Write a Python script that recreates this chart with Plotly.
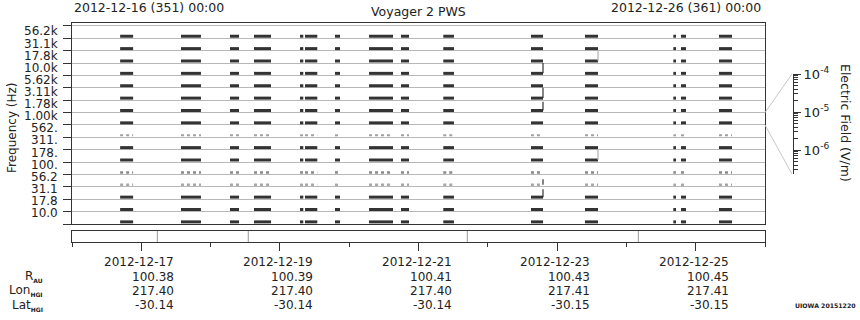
import math
import plotly.graph_objects as go

# ---------------- data ----------------
channel_labels = ["10.0", "17.8", "31.1", "56.2", "100.", "178.", "311.", "562.",
                  "1.00k", "1.78k", "3.11k", "5.62k", "10.0k", "17.8k", "31.1k", "56.2k"]

obs_start = ["2012-12-16 16:40", "2012-12-17 13:45", "2012-12-18 06:43", "2012-12-18 15:02",
             "2012-12-19 06:58", "2012-12-19 08:42", "2012-12-19 19:05", "2012-12-20 06:52",
             "2012-12-20 17:56", "2012-12-21 08:35", "2012-12-22 14:57", "2012-12-23 09:40",
             "2012-12-24 16:15", "2012-12-24 18:55", "2012-12-25 08:04"]
obs_end = ["2012-12-16 21:10", "2012-12-17 20:40", "2012-12-18 09:50", "2012-12-18 20:55",
           "2012-12-19 08:06", "2012-12-19 12:57", "2012-12-19 20:49", "2012-12-20 15:10",
           "2012-12-20 20:43", "2012-12-21 12:17", "2012-12-22 19:07", "2012-12-23 14:10",
           "2012-12-24 17:11", "2012-12-24 20:39", "2012-12-25 12:34"]

# background electric field per channel (V/m)
background_E = [6.6e-7, 6.6e-7, 6.6e-7, 6.4e-7, 6.4e-7, 6.6e-7, 6.6e-7, 6.4e-7,
                6.6e-7, 6.6e-7, 6.6e-7, 6.6e-7, 6.6e-7, 6.6e-7, 6.6e-7, 6.6e-7]
noisy_channels = [3, 4, 7]

# spikes (time, channel, peak E)
spike_strong_time = ["2012-12-22 19:07", "2012-12-22 19:07", "2012-12-22 19:07",
                     "2012-12-22 19:07", "2012-12-22 19:07"]
spike_strong_chan = [12, 10, 9, 3, 2]
spike_strong_E = [1.0e-4, 1.0e-4, 4.8e-5, 9.3e-6, 3.2e-5]
spike_faint_time = ["2012-12-23 14:10", "2012-12-23 14:10"]
spike_faint_chan = [13, 5]
spike_faint_E = [1.0e-4, 9.0e-5]

strip_marks = ["2012-12-17 05:33", "2012-12-18 13:03", "2012-12-21 16:54", "2012-12-24 04:08"]

eph_dates = ["2012-12-17", "2012-12-19", "2012-12-21", "2012-12-23", "2012-12-25"]
eph_R = ["100.38", "100.39", "100.41", "100.43", "100.45"]
eph_lon = ["217.40", "217.40", "217.40", "217.41", "217.41"]
eph_lat = ["-30.14", "-30.14", "-30.14", "-30.15", "-30.15"]

E_LOG_MIN, E_LOG_MAX = -6.63, -4.0
X_RANGE = ["2012-12-16 00:00", "2012-12-26 00:00"]

# ---------------- layout geometry (pixels) ----------------
W, H = 860, 320
ML, MT, MB = 72, 23, 78
PW = W - ML
PH = H - MT - MB
def px_x(x): return (x - ML) / PW
def px_y(y): return (H - MB - y) / PH

XD = px_x(765)
Y_MAIN0 = px_y(224)
Y_TOP_RANGE = 16.24
CH_PX = (224 - 23) / Y_TOP_RANGE
DARK = "#333333"
GRID = "#b8b8b8"
FONT = "DejaVu Sans"

def frac(E):
    return (math.log10(E) - E_LOG_MIN) / (E_LOG_MAX - E_LOG_MIN)

fig = go.Figure()

def bar_trace(chans, color, width, dash):
    xs, ys = [], []
    for c in chans:
        lv = c + frac(background_E[c])
        for s, e in zip(obs_start, obs_end):
            xs += [s, e, None]
            ys += [lv, lv, None]
    fig.add_trace(go.Scatter(x=xs, y=ys, mode="lines", xaxis="x", yaxis="y",
                             line=dict(color=color, width=width, dash=dash),
                             showlegend=False, hoverinfo="skip"))

solid = [c for c in range(16) if c not in noisy_channels]
bar_trace(solid, DARK, 3, "solid")
bar_trace([3], "#a8a8a8", 2.5, "dot")
bar_trace([4], "#8a8a8a", 2.5, "dot")
bar_trace([7], "#a0a0a0", 2, "dot")

def spike_trace(times, chans, Es, color):
    xs, ys = [], []
    for t, c, E in zip(times, chans, Es):
        xs += [t, t, None]
        ys += [c + frac(background_E[c]), c + frac(E), None]
    fig.add_trace(go.Scatter(x=xs, y=ys, mode="lines", xaxis="x", yaxis="y",
                             line=dict(color=color, width=1.2),
                             showlegend=False, hoverinfo="skip"))

spike_trace(spike_strong_time, spike_strong_chan, spike_strong_E, DARK)
spike_trace(spike_faint_time, spike_faint_chan, spike_faint_E, "#b0b0b0")

xs, ys = [], []
for t in strip_marks:
    xs += [t, t, None]
    ys += [0, 1, None]
fig.add_trace(go.Scatter(x=xs, y=ys, mode="lines", xaxis="x2", yaxis="y2",
                         line=dict(color="#999999", width=1),
                         showlegend=False, hoverinfo="skip"))

fig.add_trace(go.Scatter(x=[0], y=[1e-5], xaxis="x3", yaxis="y3", mode="markers",
                         marker=dict(opacity=0), showlegend=False, hoverinfo="skip"))

fig.update_layout(
    width=W, height=H,
    margin=dict(l=ML, r=0, t=MT, b=MB, pad=0),
    paper_bgcolor="white", plot_bgcolor="white",
    font=dict(family=FONT, size=12, color="#222222"),
    xaxis=dict(domain=[0, XD], range=X_RANGE, type="date", anchor="y",
               showline=True, mirror=True, linecolor=DARK, linewidth=1,
               ticks="", showticklabels=False, showgrid=False, zeroline=False),
    yaxis=dict(domain=[Y_MAIN0, 1], range=[0, Y_TOP_RANGE], anchor="x",
               tickmode="array", tickvals=list(range(17)), ticks="outside",
               ticklen=8, tickcolor=DARK, showticklabels=False,
               showgrid=True, gridcolor=GRID, gridwidth=1,
               showline=True, mirror=True, linecolor=DARK, linewidth=1, zeroline=False),
    xaxis2=dict(domain=[0, XD], range=X_RANGE, type="date", anchor="y2",
                showline=True, mirror=True, linecolor=DARK, linewidth=1,
                tickmode="linear", tick0="2012-12-17", dtick=2 * 86400000,
                ticks="outside", ticklen=8, tickcolor=DARK, showticklabels=False,
                minor=dict(dtick=86400000, tick0="2012-12-16", ticks="outside",
                           ticklen=4, tickcolor=DARK, showgrid=False),
                showgrid=False, zeroline=False),
    yaxis2=dict(domain=[0, px_y(231)], range=[0, 1], anchor="x2",
                showline=True, mirror=True, linecolor=DARK, linewidth=1,
                ticks="", showticklabels=False, showgrid=False, zeroline=False),
    xaxis3=dict(domain=[0.90, 0.905], visible=False, anchor="y3"),
    yaxis3=dict(domain=[px_y(174), px_y(74)], type="log",
                range=[E_LOG_MIN, E_LOG_MAX], anchor="free", position=px_x(793),
                side="right", showline=True, linecolor=DARK, linewidth=1,
                tickmode="array", tickvals=[1e-6, 1e-5, 1e-4],
                ticktext=["10<sup>-6</sup>", "10<sup>-5</sup>", "10<sup>-4</sup>"],
                ticks="outside", ticklen=7, tickcolor=DARK,
                tickfont=dict(size=13, color="#222222"),
                minor=dict(tickmode="array",
                           tickvals=[3e-7, 4e-7, 5e-7, 6e-7, 7e-7, 8e-7, 9e-7,
                                     2e-6, 3e-6, 4e-6, 5e-6, 6e-6, 7e-6, 8e-6, 9e-6,
                                     2e-5, 3e-5, 4e-5, 5e-5, 6e-5, 7e-5, 8e-5, 9e-5],
                           ticks="outside", ticklen=4, tickcolor=DARK, showgrid=False),
                showgrid=False, zeroline=False),
)

ann = []
# frequency labels: evenly spaced from the top label down to the bottom label
LAB_TOP_PX, LAB_BOT_PX = 31.5, 213.0
for k, lab in enumerate(channel_labels):
    ypx = LAB_BOT_PX - (LAB_BOT_PX - LAB_TOP_PX) * k / (len(channel_labels) - 1)
    ann.append(dict(x=px_x(60), xref="paper", y=px_y(ypx), yref="paper",
                    text=lab, showarrow=False, xanchor="right", yanchor="middle",
                    font=dict(size=12)))
rows = [(eph_dates, 262), (eph_R, 276.5), (eph_lon, 290.5), (eph_lat, 305)]
for vals, ypx in rows:
    for d, v in zip(eph_dates, vals):
        ann.append(dict(x=d, xref="x2", y=px_y(ypx), yref="paper", text=v,
                        showarrow=False, xanchor="right", yanchor="middle", xshift=35,
                        font=dict(size=12)))
sub = "<sub><span style='font-size:6px;font-weight:bold'>%s</span></sub>"
for txt, ypx in [("R" + sub % "AU", 276.5), ("Lon" + sub % "HGI", 290.5), ("Lat" + sub % "HGI", 305)]:
    ann.append(dict(x=px_x(45), xref="paper", y=px_y(ypx), yref="paper", text=txt,
                    showarrow=False, xanchor="right", yanchor="middle", font=dict(size=12)))
ann.append(dict(x=0, xref="paper", y=px_y(8), yref="paper", text="2012-12-16 (351) 00:00",
                showarrow=False, xanchor="left", yanchor="middle", font=dict(size=12.5)))
ann.append(dict(x=XD / 2, xref="paper", y=px_y(11), yref="paper", text="Voyager 2 PWS",
                showarrow=False, xanchor="center", yanchor="middle", font=dict(size=12.5)))
ann.append(dict(x=px_x(763), xref="paper", y=px_y(8), yref="paper", text="2012-12-26 (361) 00:00",
                showarrow=False, xanchor="right", yanchor="middle", font=dict(size=12.5)))
ann.append(dict(x=px_x(12), xref="paper", y=px_y(127), yref="paper", text="Frequency (Hz)",
                showarrow=False, textangle=-90, xanchor="center", yanchor="middle",
                font=dict(size=12)))
ann.append(dict(x=px_x(846), xref="paper", y=px_y(123), yref="paper", text="Electric Field (V/m)",
                showarrow=False, textangle=90, xanchor="center", yanchor="middle",
                font=dict(size=12.5)))
ann.append(dict(x=px_x(858), xref="paper", y=px_y(305), yref="paper", text="<b>UIOWA 20151220</b>",
                showarrow=False, xanchor="right", yanchor="middle", font=dict(size=6.2)))
fig.update_layout(annotations=ann)

def ch_paper(c):
    return Y_MAIN0 + (c / Y_TOP_RANGE) * (1 - Y_MAIN0)
fig.add_shape(type="line", xref="paper", yref="paper", x0=XD, y0=ch_paper(9),
              x1=px_x(792), y1=px_y(74), line=dict(color="#c8c8c8", width=1))
fig.add_shape(type="line", xref="paper", yref="paper", x0=XD, y0=ch_paper(8),
              x1=px_x(792), y1=px_y(174), line=dict(color="#c8c8c8", width=1))

fig.write_html("out.html")
